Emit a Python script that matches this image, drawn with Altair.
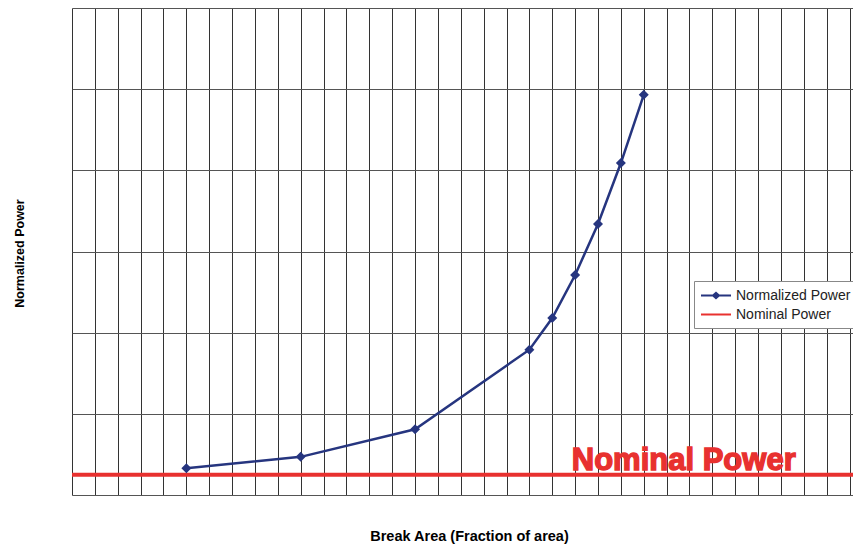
import altair as alt
import pandas as pd

# ---- data ----
break_area = [0.05, 0.10, 0.15, 0.20, 0.21, 0.22, 0.23, 0.24, 0.25]
normalized_power = [1.08, 1.22, 1.56, 2.54, 2.93, 3.46, 4.09, 4.84, 5.68]
nominal_power = [1.0]
series_names = ["Normalized Power", "Nominal Power"]
series_colors = ["#26357f", "#e8312f"]
x_ticks = [round(i * 0.01, 2) for i in range(35)]
y_ticks = [0.75 + i for i in range(7)]
annotation_text = ["Nominal Power"]
annotation_x = [0.2675]

df = pd.DataFrame({"area": break_area, "power": normalized_power})
nom_df = pd.DataFrame({"power": nominal_power})
leg_df = pd.DataFrame({"series": series_names})
ann_df = pd.DataFrame({"area": annotation_x, "power": nominal_power, "label": annotation_text})

navy, red = series_colors
xscale = alt.Scale(domain=[0, 0.3415], nice=False, zero=False)
yscale = alt.Scale(domain=[0.75, 6.75], nice=False, zero=False)

x_axis = alt.Axis(values=x_ticks, tickCount=len(x_ticks) + 5, labels=False, ticks=False,
                  domain=False, grid=True,
                  gridColor="#333", gridWidth=1, gridOpacity=1,
                  title="Break Area (Fraction of area)", titleFont="Liberation Sans",
                  titleFontSize=14.5, titleFontWeight="bold", titleColor="#000",
                  titleX=397, titleY=41, titleBaseline="middle", titleAlign="center")
y_axis = alt.Axis(values=y_ticks, tickCount=len(y_ticks) + 2, labels=False, ticks=False,
                  domain=False, grid=True,
                  gridColor="#555", gridWidth=1, gridOpacity=1,
                  title="Normalized Power", titleFont="Liberation Sans",
                  titleFontSize=12.5, titleFontWeight="bold", titleColor="#000",
                  titleX=-53, titleY=245, titleAngle=270, titleBaseline="middle",
                  titleAlign="center")

base = alt.Chart(df).encode(
    x=alt.X("area:Q", scale=xscale, axis=x_axis),
    y=alt.Y("power:Q", scale=yscale, axis=y_axis),
)

line = base.mark_line(color=navy, strokeWidth=2.5,
                      point=alt.OverlayMarkDef(shape="diamond", filled=True, size=100, color=navy))

rule = alt.Chart(nom_df).mark_rule(color=red, strokeWidth=4).encode(
    y=alt.Y("power:Q", scale=yscale)
)

ann = alt.Chart(ann_df).mark_text(
    font="Liberation Sans", fontSize=31, fontWeight="bold", color=red,
    stroke=red, strokeWidth=1.4, align="center", baseline="alphabetic", dy=-5
).encode(
    x=alt.X("area:Q", scale=xscale),
    y=alt.Y("power:Q", scale=yscale),
    text="label:N",
)

path_line_diamond = "M-1,0H3M0.6,0L1,-0.36L1.4,0L1,0.36Z"
path_line = "M-1,0H3"

leg = alt.Legend(
    title=None, orient="none", legendX=622, legendY=273, direction="vertical",
    symbolSize=225, symbolStrokeWidth=2, symbolOpacity=1,
    labelFont="Liberation Sans", labelFontSize=14, labelColor="#222",
    labelOffset=19, padding=6, rowPadding=3,
    strokeColor="#888", fillColor="white",
)

legend_layer = alt.Chart(leg_df).mark_point(opacity=0, filled=True, strokeWidth=2).encode(
    fill=alt.Fill("series:N", scale=alt.Scale(domain=series_names, range=series_colors), legend=leg),
    stroke=alt.Stroke("series:N", scale=alt.Scale(domain=series_names, range=series_colors), legend=leg),
    shape=alt.Shape("series:N", scale=alt.Scale(domain=series_names,
                                                range=[path_line_diamond, path_line]), legend=leg),
)

chart = alt.layer(rule, line, ann, legend_layer).properties(
    width=781, height=487,
    autosize=alt.AutoSizeParams(type="none"),
    padding={"left": 64, "top": 0, "right": 0, "bottom": 49},
).configure_view(stroke="#999", strokeWidth=1).configure(background="white")

chart.save("out.html", embed_options={"renderer": "svg", "actions": False})
